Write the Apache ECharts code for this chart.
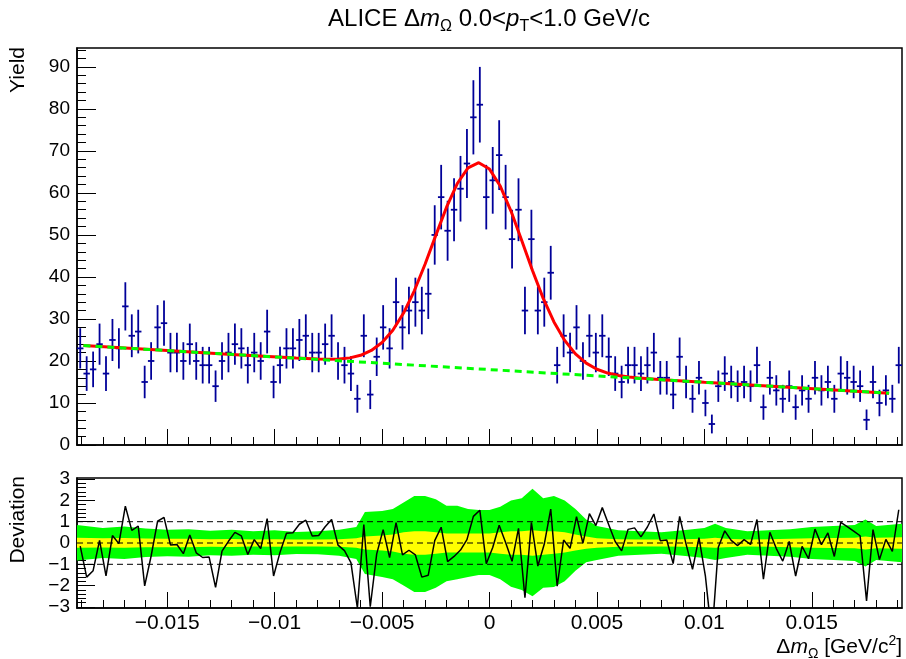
<!DOCTYPE html>
<html><head><meta charset="utf-8">
<script src="https://cdn.jsdelivr.net/npm/echarts@6/dist/echarts.min.js"></script>
<style>html,body{margin:0;padding:0;background:#fff}#c{width:906px;height:659px}</style>
</head><body><div id="c"></div>
<script>
// ---- histogram binning ----
const binLow = -0.0192, binHigh = 0.0192, binWidth = 0.0003;
// ---- yields per bin (128 bins) ----
const yields = [23,17,18,24,17,25,23,33,26,27,15,20,28,29,22,22,20,24,20,19,19,14,20,22,24,23,19,22,20,27,15,19,23,
 23,25,26,22,22,24,26,20,19,17,11,26,12,21,28,23,34,28,32,34,32,36,50,59,51,56,61,67,78,81,59,63,
 69,59,49,56,32,49,32,34,41,19,26,22,28,20,26,22,26,21,17,15,19,19,17,19,22,16,16,12,21,15,11,16,
 10,5,14,17,15,14,15,14,19,9,16,13,11,14,9,13,11,16,13,15,11,17,16,15,14,6,15,10,13,11,19];
const yieldErr = [4.80,4.12,4.24,4.90,4.12,5,4.80,5.74,5.10,5.20,3.87,4.47,5.29,5.39,4.69,4.69,4.47,4.90,4.47,4.36,4.36,3.74,4.47,4.69,4.90,4.80,4.36,4.69,4.47,5.20,3.87,4.36,4.80,
 4.80,5,5.10,4.69,4.69,4.90,5.10,4.47,4.36,4.12,3.32,5.10,3.46,4.58,5.29,4.80,5.83,5.29,5.66,5.83,5.66,6,7.07,7.68,7.14,7.48,7.81,8.19,8.83,9,7.68,7.94,
 8.31,7.68,7,7.48,5.66,7,5.66,5.83,6.40,4.36,5.10,4.69,5.29,4.47,5.10,4.69,5.10,4.58,4.12,3.87,4.36,4.36,4.12,4.36,4.69,4,4,3.46,4.58,3.87,3.32,4,
 3.16,2.24,3.74,4.12,3.87,3.74,3.87,3.74,4.36,3,4,3.61,3.32,3.74,3,3.61,3.32,4,3.61,3.87,3.32,4.12,4,3.87,3.74,2.45,3.87,3.16,3.61,3.32,4.36];
// ---- deviation per bin ----
const deviation = [-0.15,-1.60,-1.30,0.12,-1.54,0.35,-0.03,1.73,0.59,0.79,-2.01,-0.61,1.02,1.20,-0.09,-0.07,-0.50,0.38,-0.46,-0.68,-0.66,-2.08,-0.38,0.08,0.50,0.33,-0.54,0.16,-0.26,1.14,-1.55,-0.44,0.46,0.48,0.88,1.07,0.33,0.35,0.76,
 1.10,-0.10,-0.36,-0.92,-3.05,0.86,-2.99,-0.51,0.63,-0.69,0.96,-0.56,-0.34,-0.56,-1.60,-1.51,0.11,0.74,-0.87,-0.63,-0.33,0.16,1.25,1.54,-0.97,-0.21,0.83,0.02,-0.86,0.69,-2.57,0.97,-1.08,-0.05,1.59,-2.03,0.14,-0.25,1.24,-0.01,1.38,0.82,1.66,0.86,0.07,-0.37,0.64,
 0.71,0.29,0.75,1.36,0.11,0.14,-0.97,1.25,-0.05,-1.24,0.25,-1.56,-4.40,-0.20,0.57,0.12,-0.12,0.16,-0.07,1.10,-1.70,0.50,-0.26,-0.85,0.07,-1.55,-0.16,-0.74,0.65,-0.08,0.47,-0.63,0.97,0.77,0.56,0.34,-2.72,0.63,-0.78,0.17,-0.39,1.56];
// ---- fit curve (signal+background) and background ----
const fitX = [-0.0189,-0.015,-0.012,-0.009,-0.008,-0.0075,-0.007,-0.0065,-0.006,-0.0055,-0.005,-0.0045,-0.004,-0.0035,-0.003,-0.0025,-0.002,-0.0015,-0.001,-0.0005,0,0.0005,0.001,0.0015,0.002,0.0025,0.003,0.0035,0.004,0.0045,0.005,0.0055,0.006,0.0065,0.007,0.008,0.010,0.0186];
const fitY = [23.66,22.48,21.57,20.68,20.45,20.40,20.47,20.74,21.35,22.50,24.40,27.31,31.41,36.71,43.03,49.90,56.60,62.24,65.98,67.20,65.68,61.64,55.69,48.70,41.52,34.90,29.29,24.89,21.68,19.48,18.03,17.12,16.55,16.18,15.92,15.55,14.93,12.33];
const bkgX = [-0.0189, 0.0186];
const bkgY = [23.66, 12.33];
// ---- deviation bands ----
const bandX = [-0.0192,-0.018,-0.017,-0.016,-0.015,-0.014,-0.013,-0.012,-0.011,-0.010,-0.009,-0.008,-0.007,-0.0062,-0.0058,-0.005,-0.0045,-0.004,-0.0035,-0.003,-0.0025,-0.002,-0.0015,-0.001,-0.0005,0,0.0005,0.001,0.0015,0.002,0.0025,0.003,0.0035,0.004,0.0045,0.005,0.006,0.007,0.008,0.009,0.010,0.0105,0.011,0.012,0.013,0.014,0.015,0.016,0.017,0.0175,0.018,0.0192];
const greenHi = [0.85,0.70,0.78,0.68,0.62,0.65,0.58,0.62,0.55,0.60,0.52,0.55,0.62,0.75,1.45,1.5,1.6,1.9,2.2,2.2,2.05,1.75,1.75,1.6,1.55,1.55,1.7,2.0,2.1,2.55,2.1,2.2,2.0,1.6,1.1,0.8,0.6,0.55,0.5,0.6,0.7,0.9,0.7,0.55,0.6,0.65,0.75,0.8,0.85,1.1,0.8,0.9];
const greenLo = [-0.82,-0.70,-0.75,-0.66,-0.62,-0.64,-0.58,-0.60,-0.55,-0.58,-0.52,-0.53,-0.60,-0.75,-1.45,-1.6,-1.7,-2.0,-2.3,-2.3,-2.1,-1.8,-1.7,-1.6,-1.5,-1.5,-1.7,-2.05,-2.2,-2.5,-2.1,-2.06,-1.8,-1.3,-0.9,-0.8,-0.6,-0.55,-0.5,-0.6,-0.7,-0.8,-0.7,-0.55,-0.6,-0.65,-0.75,-0.8,-0.85,-1.1,-0.8,-0.9];
const yellowHi = [0.25,0.22,0.24,0.21,0.2,0.2,0.18,0.19,0.17,0.18,0.16,0.16,0.18,0.22,0.3,0.35,0.4,0.5,0.55,0.55,0.5,0.45,0.45,0.45,0.45,0.45,0.5,0.55,0.55,0.6,0.55,0.55,0.5,0.4,0.3,0.22,0.18,0.17,0.16,0.18,0.2,0.25,0.2,0.17,0.18,0.2,0.22,0.24,0.25,0.3,0.25,0.27];
const yellowLo = [-0.22,-0.21,-0.22,-0.2,-0.2,-0.2,-0.18,-0.19,-0.17,-0.18,-0.16,-0.16,-0.18,-0.22,-0.3,-0.35,-0.4,-0.5,-0.55,-0.55,-0.5,-0.45,-0.45,-0.45,-0.45,-0.45,-0.5,-0.55,-0.55,-0.6,-0.55,-0.5,-0.45,-0.35,-0.27,-0.22,-0.18,-0.17,-0.16,-0.18,-0.2,-0.22,-0.2,-0.17,-0.18,-0.2,-0.22,-0.24,-0.25,-0.3,-0.25,-0.27];
// ---- ticks ----
const xTicks = [-0.015,-0.01,-0.005,0,0.005,0.01,0.015];
const yTicksTop = [0,10,20,30,40,50,60,70,80,90];
const yTicksDev = [-3,-2,-1,0,1,2,3];
const devRefLines = [-1,0,1];

const xMinor = []; for (let k = -19; k <= 19; k++) xMinor.push(k / 1000);
const yMinorTop = []; for (let k = 0; k <= 94; k += 2) yMinorTop.push(k);
const yMinorDev = []; for (let k = -15; k <= 15; k++) yMinorDev.push(k / 5);

const FONT = '"Liberation Sans", Arial, Helvetica, sans-serif';
const fmtX = v => { const r = parseFloat(v.toFixed(4)); return r < 0 ? '\u2212' + String(-r) : String(r); };
const fmtY = v => { const r = Math.round(v); return r < 0 ? '\u2212' + String(-r) : String(r); };

const chart = echarts.init(document.getElementById('c'), null, {renderer: 'canvas'});
const black = '#000';
function xAxisPair(grid, showLabels) {
  return [
    {gridIndex: grid, type: 'value', min: binLow, max: binHigh, position: 'bottom',
     axisLine: {show: true, onZero: false, lineStyle: {color: black, width: 1.5}},
     axisTick: {show: true, inside: true, length: 16, customValues: xTicks, lineStyle: {color: black, width: 1}},
     axisLabel: {show: showLabels, customValues: xTicks, formatter: fmtX, color: black, fontFamily: FONT, fontSize: 21, margin: 5},
     splitLine: {show: false}},
    {gridIndex: grid, type: 'value', min: binLow, max: binHigh, position: 'bottom',
     axisLine: {show: false, onZero: false},
     axisTick: {show: true, inside: true, length: 8, customValues: xMinor, lineStyle: {color: black, width: 1}},
     axisLabel: {show: false}, splitLine: {show: false}}
  ];
}
function yAxisPair(grid, min, max, major, minor, majLen, minLen) {
  return [
    {gridIndex: grid, type: 'value', min: min, max: max, position: 'left',
     axisLine: {show: true, onZero: false, lineStyle: {color: black, width: 1.5}},
     axisTick: {show: true, inside: true, length: majLen, customValues: major, lineStyle: {color: black, width: 1}},
     axisLabel: {show: true, customValues: major, formatter: fmtY, color: black, fontFamily: FONT, fontSize: 19, margin: 7},
     splitLine: {show: false}},
    {gridIndex: grid, type: 'value', min: min, max: max, position: 'left',
     axisLine: {show: false, onZero: false},
     axisTick: {show: true, inside: true, length: minLen, customValues: minor, lineStyle: {color: black, width: 1}},
     axisLabel: {show: false}, splitLine: {show: false}}
  ];
}

const errData = yields.map((y, i) => [binLow + (i + 0.5) * binWidth, y, yieldErr[i]]);
const devData = deviation.map((d, i) => [binLow + (i + 0.5) * binWidth, d]);

function bandSeries(hi, lo, color, z) {
  return {type: 'custom', xAxisIndex: 2, yAxisIndex: 2, clip: true, z: z, silent: true,
    data: [[0, 0]],
    renderItem: (params, api) => {
      const pts = [];
      for (let i = 0; i < bandX.length; i++) pts.push(api.coord([bandX[i], hi[i]]));
      for (let i = bandX.length - 1; i >= 0; i--) pts.push(api.coord([bandX[i], lo[i]]));
      return {type: 'polygon', shape: {points: pts}, style: {fill: color, stroke: null}};
    }};
}

const option = {
  animation: false,
  backgroundColor: '#fff',
  grid: [
    {left: 77, right: 4, top: 48, height: 397, show: true, borderColor: black, borderWidth: 1.5, backgroundColor: 'transparent'},
    {left: 77, right: 4, top: 478, height: 130, show: true, borderColor: black, borderWidth: 1.5, backgroundColor: 'transparent'}
  ],
  xAxis: [...xAxisPair(0, false), ...xAxisPair(1, true)],
  yAxis: [...yAxisPair(0, 0, 94.5, yTicksTop, yMinorTop, 19, 9), ...yAxisPair(1, -3.05, 3.05, yTicksDev, yMinorDev, 18, 9)],
  graphic: [
    {type: 'text', x: 489, y: 19, style: {text: 'ALICE \u0394{it|m}{sub|\u03a9} 0.0<{it|p}{sub|T}<1.0 GeV/c', font: '24px ' + FONT, fill: black, align: 'center', verticalAlign: 'middle',
      rich: {it: {fontStyle: 'italic', fontSize: 24, fontFamily: FONT}, sub: {fontSize: 16, fontFamily: FONT, padding: [16, 0, 0, 0]}}}},
    {type: 'text', x: 18, y: 47, rotation: Math.PI / 2, style: {text: 'Yield', font: '21px ' + FONT, fill: black, align: 'right', verticalAlign: 'middle'}},
    {type: 'text', x: 18, y: 476, rotation: Math.PI / 2, style: {text: 'Deviation', font: '21px ' + FONT, fill: black, align: 'right', verticalAlign: 'middle'}},
    {type: 'text', x: 902, y: 647, style: {text: '\u0394{it|m}{sub|\u03a9} [GeV/c{sup|2}]', font: '21px ' + FONT, fill: black, align: 'right', verticalAlign: 'middle',
      rich: {it: {fontStyle: 'italic', fontSize: 21, fontFamily: FONT}, sub: {fontSize: 14, fontFamily: FONT, padding: [15, 0, 0, 0]}, sup: {fontSize: 14, fontFamily: FONT, padding: [0, 0, 12, 0]}}}}
  ],
  series: [
    {type: 'custom', xAxisIndex: 0, yAxisIndex: 0, clip: true, z: 3, data: errData,
     renderItem: (params, api) => {
       const x = api.value(0), y = api.value(1), e = api.value(2);
       const t = api.coord([x, y + e]), b = api.coord([x, y - e]);
       const l = api.coord([x - binWidth / 2, y]), r = api.coord([x + binWidth / 2, y]);
       const st = {stroke: '#000099', lineWidth: 1.8};
       return {type: 'group', children: [
         {type: 'line', shape: {x1: t[0], y1: t[1], x2: b[0], y2: b[1]}, style: st},
         {type: 'line', shape: {x1: l[0], y1: l[1], x2: r[0], y2: r[1]}, style: st}
       ]};
     }},
    {type: 'line', xAxisIndex: 0, yAxisIndex: 0, z: 4, showSymbol: false, symbol: 'none',
     data: fitX.map((x, i) => [x, fitY[i]]), lineStyle: {color: '#ff0000', width: 3}},
    {type: 'line', xAxisIndex: 0, yAxisIndex: 0, z: 5, showSymbol: false, symbol: 'none',
     data: bkgX.map((x, i) => [x, bkgY[i]]), lineStyle: {color: '#00ff00', width: 3, type: [7, 5]}},
    bandSeries(greenHi, greenLo, '#00ff00', 1),
    bandSeries(yellowHi, yellowLo, '#ffff00', 2),
    ...devRefLines.map(v => ({type: 'line', xAxisIndex: 2, yAxisIndex: 2, z: 3, showSymbol: false, symbol: 'none',
      data: [[binLow, v], [binHigh, v]], lineStyle: {color: black, width: 1, type: [6, 4]}})),
    {type: 'line', xAxisIndex: 2, yAxisIndex: 2, z: 4, showSymbol: false, symbol: 'none', clip: true,
     data: devData, lineStyle: {color: black, width: 1.5}}
  ]
};
chart.setOption(option);
</script></body></html>
